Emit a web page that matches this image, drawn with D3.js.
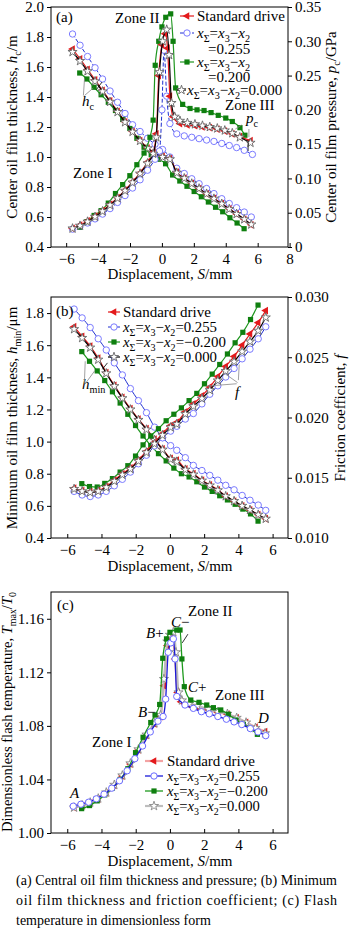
<!DOCTYPE html>
<html>
<head>
<meta charset="utf-8">
<title>Oil film and flash temperature</title>
<script src="https://d3js.org/d3.v7.min.js"></script>
<style>
  body { margin: 0; background: #fff; }
  text { font-family: "Liberation Serif", "Times New Roman", serif; font-size: 15px; fill: #000; }
  .axis .domain { display: none; }
</style>
</head>
<body>
<script>

// ---------- panel (a): centre film thickness h_c (um) and pressure p_c (GPa)
var aS  = [-5.6,-5.13,-4.66,-4.19,-3.72,-3.25,-2.78,-2.31,-1.84,-1.37,-0.9,-0.43,0.04,0.5,0.93,1.4,1.87,2.33,2.8,3.26,3.75,4.22,4.68,5.16,5.6];
var aSg = [-5.15,-4.7,-4.25,-3.81,-3.36,-2.91,-2.46,-2.01,-1.57,-1.12,-0.67,-0.22,0.23,0.67,1.12,1.57,2.02,2.47,2.91,3.36,3.81,4.26,4.71,5.15];
var hcStd  = [1.72,1.655,1.585,1.515,1.445,1.375,1.305,1.235,1.17,1.11,1.06,1.03,1.005,0.99,0.9,0.86,0.825,0.79,0.755,0.725,0.69,0.655,0.62,0.585,0.548];
var hcPos  = [1.82,1.745,1.67,1.595,1.52,1.44,1.365,1.29,1.215,1.17,1.125,1.085,1.05,1.0,0.925,0.89,0.855,0.822,0.79,0.756,0.722,0.69,0.662,0.633,0.60];
var hcNeg  = [1.56,1.52,1.465,1.415,1.365,1.31,1.25,1.19,1.125,1.065,1.015,0.985,0.955,0.88,0.84,0.805,0.77,0.735,0.70,0.665,0.635,0.595,0.56,0.522];
var hcZero = [1.70,1.64,1.572,1.505,1.437,1.368,1.3,1.232,1.168,1.108,1.058,1.025,1.0,0.985,0.895,0.858,0.823,0.79,0.755,0.722,0.688,0.653,0.62,0.585,0.55];

var pSStd  = [-5.6,-5.13,-4.66,-4.19,-3.72,-3.25,-2.78,-2.31,-1.84,-1.37,-0.9,-0.55,-0.35,-0.2,0.0,0.2,0.35,0.5,0.7,1.13,1.6,2.07,2.54,3.0,3.47,3.94,4.41,4.88,5.55];
var pcStd  = [0.027,0.032,0.038,0.045,0.053,0.062,0.072,0.083,0.095,0.108,0.124,0.138,0.165,0.25,0.295,0.311,0.29,0.22,0.19,0.18,0.178,0.177,0.175,0.174,0.172,0.169,0.165,0.161,0.155];
var pSPos  = [-5.6,-5.13,-4.66,-4.19,-3.72,-3.25,-2.78,-2.31,-1.84,-1.37,-0.9,-0.43,-0.15,0.0,0.13,0.3,0.5,0.93,1.4,1.87,2.33,2.8,3.26,3.75,4.22,4.68,5.16,5.67];
var pcPos  = [0.026,0.03,0.035,0.041,0.048,0.056,0.065,0.075,0.086,0.098,0.112,0.128,0.14,0.2,0.287,0.22,0.18,0.165,0.162,0.16,0.158,0.156,0.154,0.151,0.148,0.145,0.141,0.135];
var pSNeg  = [-5.15,-4.7,-4.25,-3.81,-3.36,-2.91,-2.46,-2.01,-1.57,-1.12,-0.75,-0.55,-0.42,-0.2,0.0,0.24,0.55,0.7,0.86,1.3,1.76,2.2,2.64,3.08,3.53,4.0,4.41,4.89,5.2];
var pcNeg  = [0.029,0.037,0.046,0.053,0.064,0.078,0.091,0.104,0.12,0.137,0.16,0.185,0.265,0.3,0.321,0.335,0.34,0.3,0.232,0.208,0.202,0.2,0.199,0.196,0.192,0.188,0.183,0.174,0.163];
var pSZero = [-5.6,-5.13,-4.66,-4.19,-3.72,-3.25,-2.78,-2.31,-1.84,-1.37,-0.9,-0.55,-0.35,-0.15,0.05,0.3,0.45,0.6,0.8,1.13,1.6,2.07,2.54,3.0,3.47,3.94,4.41,4.88,5.55];
var pcZero = [0.027,0.031,0.037,0.044,0.052,0.061,0.071,0.082,0.094,0.107,0.122,0.136,0.16,0.255,0.3,0.317,0.28,0.21,0.19,0.184,0.181,0.179,0.177,0.175,0.173,0.17,0.166,0.16,0.152];

// ---------- panel (b): minimum film thickness h_min (um) and friction coefficient f
var bS  = [-5.6,-5.13,-4.66,-4.19,-3.72,-3.25,-2.78,-2.31,-1.84,-1.37,-0.9,-0.43,0.04,0.4,0.9,1.37,1.87,2.33,2.8,3.26,3.75,4.22,4.68,5.16,5.6];
var bSg = [-5.15,-4.7,-4.25,-3.81,-3.36,-2.91,-2.46,-2.01,-1.57,-1.12,-0.67,-0.22,0.23,0.67,1.12,1.57,2.02,2.47,2.91,3.36,3.81,4.26,4.71,5.15];
var hmStd  = [1.715,1.655,1.595,1.52,1.43,1.35,1.275,1.205,1.14,1.08,1.015,0.955,0.895,0.885,0.83,0.8,0.76,0.73,0.7,0.66,0.63,0.6,0.575,0.545,0.52];
var hmPos  = [1.825,1.77,1.71,1.64,1.57,1.49,1.415,1.33,1.255,1.18,1.09,1.025,0.975,0.946,0.9,0.852,0.82,0.79,0.76,0.728,0.7,0.665,0.635,0.605,0.572];
var hmNeg  = [1.56,1.50,1.44,1.38,1.31,1.24,1.17,1.10,1.035,0.975,0.925,0.88,0.835,0.8,0.78,0.75,0.717,0.69,0.663,0.637,0.61,0.58,0.55,0.505];
var hmZero = [1.70,1.645,1.585,1.51,1.425,1.345,1.27,1.2,1.135,1.075,1.01,0.95,0.89,0.875,0.825,0.795,0.757,0.727,0.697,0.66,0.63,0.6,0.575,0.545,0.52];
var fStd  = [0.01413,0.01393,0.01383,0.01393,0.01427,0.0148,0.01533,0.01581,0.01647,0.0172,0.01793,0.01867,0.01933,0.0196,0.02047,0.02113,0.0218,0.02253,0.0234,0.02424,0.02507,0.026,0.02693,0.02787,0.02887];
var fPos  = [0.01387,0.01357,0.01344,0.01357,0.01387,0.01433,0.01487,0.01547,0.01616,0.01687,0.01764,0.01831,0.01887,0.01927,0.01987,0.02033,0.02113,0.02193,0.02263,0.02336,0.02407,0.02487,0.02567,0.02653,0.02753];
var fNeg  = [0.01451,0.01427,0.01423,0.01453,0.01493,0.01547,0.016,0.0168,0.01773,0.01847,0.01907,0.01973,0.02027,0.0208,0.0214,0.022,0.0228,0.0236,0.0244,0.02527,0.0262,0.02707,0.02813,0.02933];
var fZero = [0.01407,0.01388,0.01378,0.01388,0.0142,0.01472,0.01525,0.01573,0.01638,0.0171,0.01782,0.01853,0.01918,0.01945,0.0203,0.02093,0.02157,0.02227,0.02307,0.02385,0.02463,0.02547,0.0263,0.0272,0.0283];

// ---------- panel (c): dimensionless flash temperature Tmax/T0
var cSStd = [-5.6,-5.13,-4.66,-4.19,-3.72,-3.25,-2.78,-2.31,-1.84,-1.37,-0.9,-0.55,-0.35,-0.15,0.0,0.15,0.3,0.45,0.65,1.12,1.6,2.25,2.8,3.36,3.9,4.45,5.0,5.56];
var tStd  = [1.019,1.0205,1.0225,1.0255,1.030,1.0355,1.0425,1.0515,1.062,1.073,1.0815,1.087,1.11,1.14,1.145,1.147,1.13,1.105,1.098,1.0956,1.094,1.092,1.09,1.0887,1.086,1.0827,1.079,1.0757];
var cSPos = [-5.65,-5.2,-4.75,-4.3,-3.85,-3.4,-2.95,-2.5,-2.05,-1.6,-1.15,-0.7,-0.4,-0.25,-0.1,0.05,0.2,0.3,0.4,0.88,1.37,1.84,2.3,2.8,3.3,3.75,4.2,4.7,5.15,5.6];
var tPos  = [1.02,1.0215,1.023,1.0255,1.029,1.0335,1.039,1.0465,1.0555,1.065,1.0755,1.0835,1.087,1.10,1.135,1.142,1.145,1.13,1.102,1.0956,1.0931,1.0906,1.089,1.087,1.085,1.083,1.081,1.078,1.0755,1.0727];
var cSNeg = [-5.16,-4.7,-4.25,-3.81,-3.36,-2.91,-2.46,-2.01,-1.57,-1.12,-0.87,-0.6,-0.42,-0.2,0.0,0.4,0.59,0.7,0.84,1.22,1.7,2.15,2.54,2.97,3.41,3.86,4.29,4.68,5.11];
var tNeg  = [1.0182,1.0205,1.024,1.0285,1.0335,1.040,1.048,1.06,1.0715,1.0825,1.0881,1.096,1.1305,1.145,1.1499,1.1516,1.1516,1.13,1.1093,1.0993,1.0976,1.0956,1.0936,1.0919,1.0887,1.0844,1.0812,1.0782,1.0737];
var cSZero = [-5.6,-5.13,-4.66,-4.19,-3.72,-3.25,-2.78,-2.31,-1.84,-1.37,-0.9,-0.55,-0.35,-0.15,0.0,0.2,0.35,0.5,0.7,1.12,1.6,2.25,2.8,3.36,3.9,4.45,5.0,5.56];
var tZero  = [1.019,1.0207,1.0228,1.0258,1.0303,1.036,1.043,1.052,1.0625,1.0735,1.082,1.088,1.115,1.143,1.148,1.15,1.135,1.105,1.099,1.0965,1.095,1.0925,1.0905,1.089,1.086,1.0825,1.0785,1.0745];

// ---------- ticks
var aXTicks = [-6,-4,-2,0,2,4,6,8];
var bXTicks = [-6,-4,-2,0,2,4,6];
var aYTicks = [0.4,0.6,0.8,1.0,1.2,1.4,1.6,1.8,2.0];
var aRTicks = [0,0.05,0.10,0.15,0.20,0.25,0.30,0.35];
var bYTicks = [0.4,0.6,0.8,1.0,1.2,1.4,1.6,1.8];
var bRTicks = [0.010,0.015,0.020,0.025,0.030];
var cYTicks = [1.00,1.04,1.08,1.12,1.16];

var legendNames = ["Standard drive", "*x*_{Σ}=*x*_{3}−*x*_{2}=0.255", "*x*_{Σ}=*x*_{3}−*x*_{2}=−0.200", "*x*_{Σ}=*x*_{3}−*x*_{2}=0.000"];

var svg = d3.select("body").append("svg")
    .attr("width", 350)
    .attr("height", 929);

var L = 51, R = 288;

// text with *italic* and _{subscript}
function rich(sel, str) {
  var parts = str.split(/(\*[^*]+\*|_\{[^}]*\})/).filter(function(s) { return s.length; });
  var low = false;
  parts.forEach(function(p) {
    var t = sel.append("tspan");
    if (p.charAt(0) === "_") {
      t.text(p.slice(2, -1)).style("font-size", "68%").attr("dy", low ? 0 : 3.5);
      low = true;
    } else {
      var txt = p, it = false;
      if (p.charAt(0) === "*") { txt = p.slice(1, -1); it = true; }
      t.text(txt).attr("dy", low ? -3.5 : 0);
      if (it) t.style("font-style", "italic");
      low = false;
    }
  });
  return sel;
}

// shrink a text to the width it has in the figure
function fit(sel, w) {
  var len = sel.node().getComputedTextLength();
  if (len > w) sel.style("font-size", (15 * w / len).toFixed(2) + "px");
  return sel;
}

function label(str, x, y, anchor) {
  return rich(svg.append("text").attr("x", x).attr("y", y).attr("text-anchor", anchor || "start"), str);
}

function marker(g, kind, x, y, col) {
  if (kind === "tri") {
    g.append("path").attr("d", d3.symbol(d3.symbolTriangle, 26)())
      .attr("transform", "translate(" + x + "," + y + ") rotate(-90)").attr("fill", col);
  } else if (kind === "circ") {
    g.append("circle").attr("cx", x).attr("cy", y).attr("r", 3.2)
      .attr("fill", "#fff").attr("stroke", col).attr("stroke-width", 1);
  } else if (kind === "sq") {
    g.append("rect").attr("x", x - 2.6).attr("y", y - 2.6).attr("width", 5.2).attr("height", 5.2).attr("fill", col);
  } else {
    g.append("path").attr("d", d3.symbol(d3.symbolStar, 26)())
      .attr("transform", "translate(" + x + "," + y + ")")
      .attr("fill", "#fff").attr("stroke", col).attr("stroke-width", 0.9);
  }
}

function series(g, xs, ys, sx, sy, st) {
  var pts = xs.map(function(v, i) { return [sx(v), sy(ys[i])]; });
  g.append("path")
    .attr("d", d3.line().curve(d3.curveMonotoneX)(pts))
    .attr("fill", "none")
    .attr("stroke", st.line)
    .attr("stroke-width", st.w)
    .attr("stroke-dasharray", st.dash || null);
  pts.forEach(function(p) { marker(g, st.mk, p[0], p[1], st.mc); });
}

function legendRow(x0, x1, y, st, str, tx, w) {
  svg.append("line").attr("x1", x0).attr("x2", x1).attr("y1", y).attr("y2", y)
    .attr("stroke", st.line).attr("stroke-width", st.w).attr("stroke-dasharray", st.dash || null);
  marker(svg, st.mk, (x0 + x1) / 2, y, st.mc);
  var t = label(str, tx, y + 5);
  if (w) fit(t, w);
}

function leader(pts, col) {
  svg.append("path").attr("d", d3.line()(pts)).attr("fill", "none")
    .attr("stroke", col || "#888").attr("stroke-width", 0.8);
}

function frame(top, bottom, xDomain, xTicks, yL, yLTicks, yLFmt, yR, yRTicks, yRFmt) {
  var x = d3.scaleLinear().domain(xDomain).range([L, R]);
  var y = d3.scaleLinear().domain(yL).range([bottom, top]);
  var y2 = yR ? d3.scaleLinear().domain(yR).range([bottom, top]) : null;

  svg.append("g").attr("class", "axis")
      .attr("transform", "translate(0," + bottom + ")")
      .call(d3.axisBottom(x).tickValues(xTicks).tickSize(-4).tickPadding(6))
      .attr("font-family", null).attr("font-size", null);
  svg.append("g").attr("class", "axis")
      .attr("transform", "translate(" + L + ",0)")
      .call(d3.axisLeft(y).tickValues(yLTicks).tickFormat(d3.format(yLFmt)).tickSize(4).tickPadding(3))
      .attr("font-family", null).attr("font-size", null);
  if (y2) {
    svg.append("g").attr("class", "axis")
        .attr("transform", "translate(" + R + ",0)")
        .call(d3.axisRight(y2).tickValues(yRTicks).tickFormat(yRFmt).tickSize(4).tickPadding(3))
        .attr("font-family", null).attr("font-size", null);
  }
  svg.selectAll(".axis text").attr("fill", "#000");
  svg.selectAll(".axis line").attr("stroke", "#000");
  svg.append("rect").attr("x", L).attr("y", top).attr("width", R - L).attr("height", bottom - top)
    .attr("fill", "none").attr("stroke", "#000").attr("stroke-width", 1);
  return {x: x, y: y, y2: y2};
}

function ytitle(str, x, cy, w) {
  var t = rich(svg.append("text").attr("text-anchor", "middle")
    .attr("transform", "translate(" + x + "," + cy + ") rotate(-90)"), str);
  if (w) fit(t, w);
}

var red   = "#e31a1c", blue = "#1f2fd0", green = "#1e961e";
var stStd  = {line: red,   w: 1.2, mk: "tri",  mc: red};
var stPosA = {line: blue,  w: 1,   mk: "circ", mc: "#7b7bff", dash: "4,2"};
var stPos  = {line: blue,  w: 1,   mk: "circ", mc: "#7b7bff"};
var stNeg  = {line: green, w: 1.2, mk: "sq",   mc: "#0f7f0f"};
var stZero = {line: "#000", w: 1.2, mk: "star", mc: "#666"};
var stStdC  = {line: "#f3a3a3", w: 2.2, mk: "tri", mc: red};
var stPosC  = {line: "#1a1ad8", w: 1.3, mk: "circ", mc: "#6b6bff"};
var stNegC  = {line: "#1e9a1e", w: 1.3, mk: "sq", mc: "#0f7f0f"};
var stZeroC = {line: "#bdbdbd", w: 2.2, mk: "star", mc: "#888"};

// =============== (a)
var fa = frame(7, 247, [-6.95, 7.9], aXTicks, [0.4, 2.0], aYTicks, ".1f",
  [0, 0.35], aRTicks, function(d) { return d === 0 ? "0" : d3.format(".2f")(d); });
var ga = svg.append("g");
series(ga, aS, hcPos, fa.x, fa.y, stPosA);
series(ga, aSg, hcNeg, fa.x, fa.y, stNeg);
series(ga, aS, hcStd, fa.x, fa.y, stStd);
series(ga, aS, hcZero, fa.x, fa.y, stZero);
series(ga, pSPos, pcPos, fa.x, fa.y2, stPosA);
series(ga, pSNeg, pcNeg, fa.x, fa.y2, stNeg);
series(ga, pSStd, pcStd, fa.x, fa.y2, stStd);
series(ga, pSZero, pcZero, fa.x, fa.y2, stZero);

legendRow(180, 194, 16, stStd, "Standard drive", 197, 88);
legendRow(180, 194, 33, stPosA, "*x*_{Σ}=*x*_{3}−*x*_{2}", 197, 57);
fit(label("=0.255", 208, 54), 44);
legendRow(180, 194, 62, stNeg, "*x*_{Σ}=*x*_{3}−*x*_{2}", 197, 57);
fit(label("=0.200", 208, 82), 44);
legendRow(177, 186, 90, stZero, "*x*_{Σ}=*x*_{3}−*x*_{2}=0.000", 187, 99);

label("(a)", 56, 22);
label("Zone II", 115, 23);
label("Zone III", 225, 110);
label("Zone I", 73, 178);
label("*h*_{c}", 82, 106);
label("*p*_{c}", 246, 123);
leader([[fa.x(-4.92), fa.y(1.41)], [fa.x(-4.85), fa.y(1.52)]]);
leader([[fa.x(-4.85), fa.y(1.41)], [fa.x(-4.3), fa.y(1.46)]]);
leader([[fa.x(-4.1), fa.y(1.45)], [fa.x(-3.75), fa.y(1.5)]], "#000");
leader([[fa.x(5.0), fa.y2(0.178)], [fa.x(4.6), fa.y2(0.172)]]);
leader([[fa.x(5.45), fa.y2(0.172)], [fa.x(5.45), fa.y2(0.16)]]);
leader([[fa.x(5.4), fa.y2(0.155)], [fa.x(5.4), fa.y2(0.14)]], "#000");

ytitle("Center oil film thickness, *h*_{c}/m", 17, 127, 205);
ytitle("Center oil film pressure, *p*_{c}/GPa", 336, 127, 225);
label("Displacement, *S*/mm", 170, 279, "middle");

// =============== (b)
var fb = frame(297, 538, [-6.95, 6.9], bXTicks, [0.4, 1.9], bYTicks, ".1f",
  [0.010, 0.030], bRTicks, d3.format(".3f"));
var gb = svg.append("g");
series(gb, bS, hmPos, fb.x, fb.y, stPos);
series(gb, bSg, hmNeg, fb.x, fb.y, stNeg);
series(gb, bS, hmStd, fb.x, fb.y, stStd);
series(gb, bS, hmZero, fb.x, fb.y, stZero);
series(gb, bS, fPos, fb.x, fb.y2, stPos);
series(gb, bSg, fNeg, fb.x, fb.y2, stNeg);
series(gb, bS, fStd, fb.x, fb.y2, stStd);
series(gb, bS, fZero, fb.x, fb.y2, stZero);

legendRow(108, 120, 312, stStd, legendNames[0], 123, 88);
legendRow(108, 120, 327, stPos, legendNames[1], 123, 94);
legendRow(108, 120, 342, stNeg, legendNames[2], 123, 103);
legendRow(108, 120, 357, stZero, legendNames[3], 123, 94);

label("(b)", 56, 316);
label("*h*_{min}", 82, 389);
label("*f*", 235, 397);
leader([[fb.x(-5.0), fb.y(1.36)], [fb.x(-4.95), fb.y(1.5)]]);
leader([[fb.x(-4.95), fb.y(1.36)], [fb.x(-4.4), fb.y(1.44)]]);
leader([[fb.x(-3.95), fb.y(1.45)], [fb.x(-3.65), fb.y(1.49)]], "#000");
leader([[fb.x(3.9), fb.y2(0.0228)], [fb.x(2.1), fb.y2(0.0226)]]);
leader([[fb.x(3.95), fb.y2(0.0229)], [fb.x(3.25), fb.y2(0.0236)]]);
leader([[fb.x(4.0), fb.y2(0.0231)], [fb.x(4.05), fb.y2(0.0244)]]);

ytitle("Minimum oil film thickness, *h*_{min}/μm", 17, 418, 232);
ytitle("Friction coefficient, *f*", 345, 418);
label("Displacement, *S*/mm", 170, 571, "middle");

// =============== (c)
var fc = frame(592, 833, [-6.95, 6.9], bXTicks, [1.00, 1.18], cYTicks, ".2f", null);
var gc = svg.append("g");
series(gc, cSStd, tStd, fc.x, fc.y, stStdC);
series(gc, cSZero, tZero, fc.x, fc.y, stZeroC);
series(gc, cSNeg, tNeg, fc.x, fc.y, stNegC);
series(gc, cSPos, tPos, fc.x, fc.y, stPosC);

legendRow(145, 163, 761, stStdC, legendNames[0], 167, 88);
legendRow(145, 163, 776, stPosC, legendNames[1], 167, 93);
legendRow(145, 163, 791, stNegC, legendNames[2], 167, 101);
legendRow(145, 163, 806, stZeroC, legendNames[3], 167, 93);

label("(c)", 57, 610);
label("Zone II", 188, 616);
label("*C*−", 171, 627);
label("*B*+", 146, 638);
label("*C*+", 188, 692);
label("Zone III", 215, 700);
label("*B*−", 138, 717);
label("*D*", 258, 723);
label("Zone I", 92, 747);
label("*A*", 70, 798);
leader([[fc.x(1.05), fc.y(1.1485)], [fc.x(0.72), fc.y(1.142)]], "#000");

ytitle("Dimensionless flash temperature, *T*_{max}/*T*_{0}", 12, 712, 240);
label("Displacement, *S*/mm", 170, 866, "middle");

// =============== caption
var cap = [
  "(a) Central oil film thickness and pressure; (b) Minimum",
  "oil film thickness and friction coefficient; (c) Flash",
  "temperature in dimensionless form"
];
cap.forEach(function(s, i) {
  var t = svg.append("text").attr("x", 16).attr("y", 885 + i * 20)
    .style("font-size", "14px").text(s);
  if (i < 2) t.attr("textLength", 321).attr("lengthAdjust", "spacing");
});

</script>
</body>
</html>
